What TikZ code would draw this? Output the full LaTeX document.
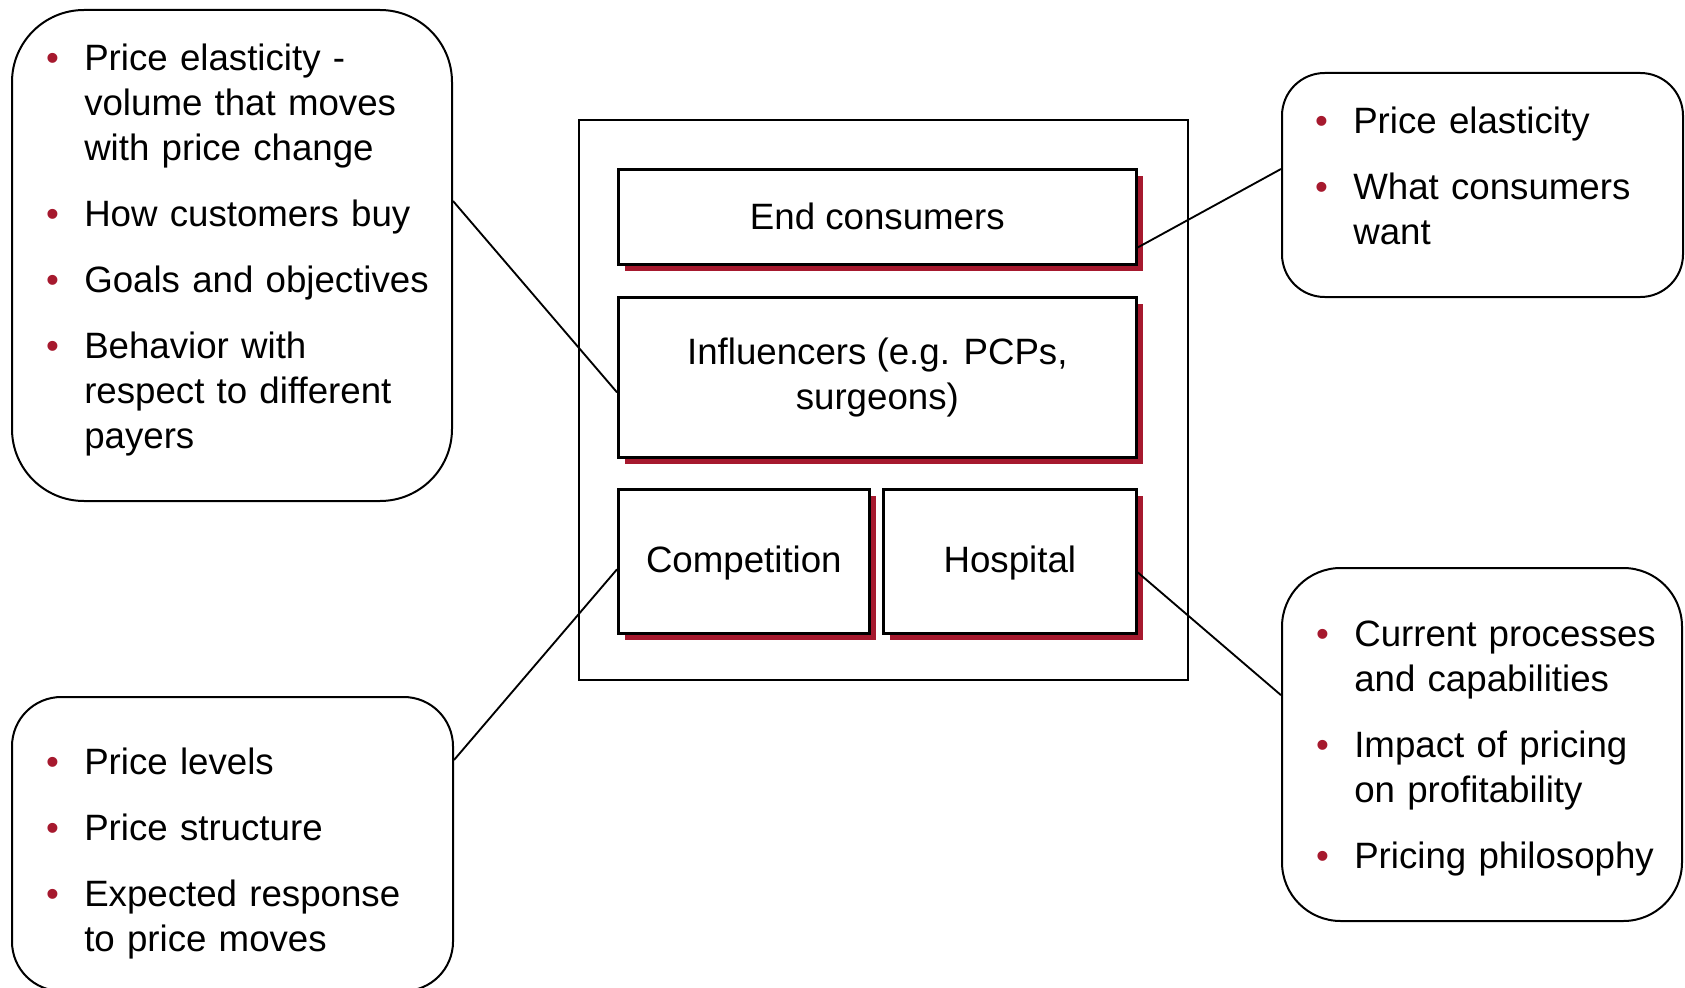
\documentclass[tikz,border=0pt]{standalone}
\usepackage{fontspec}
\setmainfont{Liberation Sans}
\usepackage{tikz}
\usetikzlibrary{shadows}
\definecolor{bulletred}{RGB}{166,25,46}
\newcommand{\bul}{\leavevmode\llap{\textcolor{bulletred}{\textbullet}\hspace{19pt}}}
\tikzset{
  box/.style={draw, line width=2pt, fill=white, inner sep=0pt, align=center, anchor=north west,
    drop shadow={shadow xshift=5pt, shadow yshift=-5pt, fill=bulletred, opacity=1}},
  note/.style={draw, line width=1.5pt, fill=white, inner sep=0pt, anchor=north west},
  bullets/.style={inner sep=0pt, anchor=base west, align=left},
  link/.style={line width=1.4pt}
}

\begin{document}
\begin{tikzpicture}[x=0.75pt, y=-0.75pt, font=\fontsize{27.5pt}{33.75pt}\selectfont]
  \useasboundingbox (0,0) rectangle (1685,988);

  % Define nodes
  \node[draw, line width=1.5pt, anchor=north west, inner sep=0pt,
        minimum width=456.75pt, minimum height=420pt] (market) at (578,119) {};
  \node[box, minimum width=388.5pt, minimum height=71.25pt] (cons) at (617,168) {End consumers};
  \node[box, minimum width=388.5pt, minimum height=120pt] (infl) at (617,296) {Influencers (e.g. PCPs,\\surgeons)};
  \node[box, minimum width=188.25pt, minimum height=108pt, text depth=3pt] (comp) at (617,488) {Competition};
  \node[box, minimum width=189.75pt, minimum height=108pt, text depth=3pt] (hosp) at (882,488) {Hospital};

  % Notes
  \node[note, rounded corners=54pt, minimum width=330pt, minimum height=368.25pt] (inflnote) at (11,9) {};
  \node[bullets, text width=270pt] (infltext) at (84,71)
    {\bul Price elasticity -\\volume that moves\\with price change\\[15.75pt]
     \bul How customers buy\\[15.75pt]
     \bul Goals and objectives\\[15.75pt]
     \bul Behavior with\\respect to different\\payers};

  \node[note, rounded corners=32pt, minimum width=300.75pt, minimum height=168pt] (consnote) at (1281,72) {};
  \node[bullets, text width=240pt] (constext) at (1353,134)
    {\bul Price elasticity\\[15.75pt]
     \bul What consumers\\want};

  \node[note, rounded corners=37pt, minimum width=330.75pt, minimum height=220.5pt] (compnote) at (11,696) {};
  \node[bullets, text width=270pt] (comptext) at (84,774)
    {\bul Price levels\\[15.75pt]
     \bul Price structure\\[15.75pt]
     \bul Expected response\\to price moves};

  \node[note, rounded corners=44pt, minimum width=300pt, minimum height=264.75pt] (hospnote) at (1281,567) {};
  \node[bullets, text width=240pt] (hosptext) at (1354,646)
    {\bul Current processes\\and capabilities\\[15.75pt]
     \bul Impact of pricing\\on profitability\\[15.75pt]
     \bul Pricing philosophy};

  % Connect the nodes
  \draw[link] ([yshift=40.9pt]inflnote.east) -- ([yshift=-11.25pt]infl.west);
  \draw[link] ([yshift=12pt]consnote.west) -- ([yshift=-23pt]cons.east);
  \draw[link] ([yshift=63pt]compnote.east) -- ([yshift=-6pt]comp.west);
  \draw[link] ([yshift=37pt]hospnote.west) -- ([yshift=-8.25pt]hosp.east);
\end{tikzpicture}
\end{document}
